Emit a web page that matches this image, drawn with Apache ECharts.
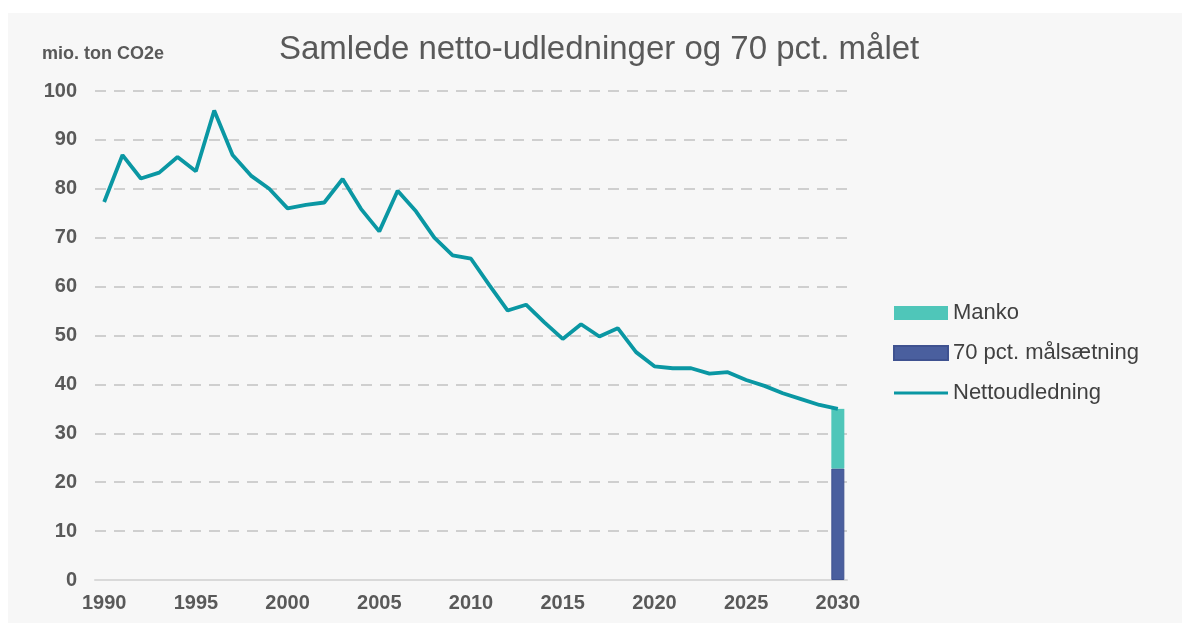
<!DOCTYPE html>
<html>
<head>
<meta charset="utf-8">
<script src="https://cdn.jsdelivr.net/npm/echarts@6/dist/echarts.min.js"></script>
<style>
  html, body { margin: 0; padding: 0; background: #fff; }
  #bg { position: absolute; left: 8px; top: 13px; width: 1174px; height: 610px; background: #f7f7f7; }
  #main { position: absolute; left: 0; top: 0; width: 1182px; height: 623px; }
</style>
</head>
<body>
<div id="bg"></div>
<div id="main"></div>
<script>
// år 1990-2030
const years = [];
for (let y = 1990; y <= 2030; y++) years.push(String(y));

// nettoudledning, mio. ton CO2e
const netto = [
  77.3, 86.9, 82.1, 83.3, 86.5, 83.6, 96.0, 86.9, 82.7, 80.0,
  76.0, 76.7, 77.2, 82.0, 75.9, 71.3, 79.6, 75.4, 70.0, 66.4,
  65.7, 60.3, 55.1, 56.3, 52.7, 49.3, 52.3, 49.8, 51.5, 46.6,
  43.7, 43.3, 43.3, 42.2, 42.5, 40.9, 39.7, 38.2, 37.0, 35.8,
  35.0
];

// søjlen i 2030
const maalsaetning2030 = 22.8;
const manko2030 = 12.2;

const yTicks = [0, 10, 20, 30, 40, 50, 60, 70, 80, 90, 100];

const onlyLast = v => years.map((y, i) => (i === years.length - 1 ? v : null));

const chart = echarts.init(document.getElementById('main'));

const option = {
  animation: false,
  title: [
    {
      text: 'Samlede netto-udledninger og 70 pct. målet',
      left: 274, top: 28,
      textStyle: { fontFamily: 'Liberation Sans, Arial', fontSize: 33, fontWeight: 'normal', color: '#595959' }
    },
    {
      text: 'mio. ton CO2e',
      left: 37, top: 40,
      textStyle: { fontFamily: 'Liberation Sans, Arial', fontSize: 18, fontWeight: 'bold', color: '#595959' }
    }
  ],
  legend: {
    orient: 'vertical',
    left: 893, top: 302, padding: 0,
    itemWidth: 54, itemHeight: 14, itemGap: 18,
    textStyle: { fontFamily: 'Liberation Sans, Arial', fontSize: 22, color: '#404040' },
    data: [
      { name: 'Manko', icon: 'rect' },
      { name: '70 pct. målsætning', icon: 'rect' },
      { name: 'Nettoudledning', icon: 'path://M0,0 L54,0 L54,3 L0,3 Z' }
    ]
  },
  grid: { left: 95, right: 335, top: 91, bottom: 43 },
  xAxis: {
    type: 'category',
    data: years,
    boundaryGap: true,
    axisLine: { lineStyle: { color: '#d9d9d9', width: 2 } },
    axisTick: { show: false },
    axisLabel: {
      interval: 4, margin: 13,
      fontFamily: 'Liberation Sans, Arial', fontSize: 20, fontWeight: 'bold', color: '#595959'
    }
  },
  yAxis: {
    type: 'value',
    min: yTicks[0], max: yTicks[yTicks.length - 1], interval: 10,
    axisLine: { show: false },
    axisTick: { show: false },
    axisLabel: {
      margin: 18,
      fontFamily: 'Liberation Sans, Arial', fontSize: 20, fontWeight: 'bold', color: '#595959'
    },
    splitLine: { lineStyle: { color: '#cfcfcf', width: 2, type: [11, 8] } }
  },
  series: [
    {
      name: '70 pct. målsætning',
      type: 'bar',
      stack: 'mål',
      barWidth: 13,
      itemStyle: { color: '#4a5f9e', borderColor: '#3f5290', borderWidth: 1 },
      data: onlyLast(maalsaetning2030)
    },
    {
      name: 'Manko',
      type: 'bar',
      stack: 'mål',
      barWidth: 13,
      itemStyle: { color: '#4fc6b9' },
      data: onlyLast(manko2030)
    },
    {
      name: 'Nettoudledning',
      type: 'line',
      symbol: 'none',
      z: 5,
      lineStyle: { color: '#0a97a3', width: 3.8 },
      itemStyle: { color: '#0a97a3' },
      data: netto
    }
  ]
};

chart.setOption(option);
</script>
</body>
</html>
